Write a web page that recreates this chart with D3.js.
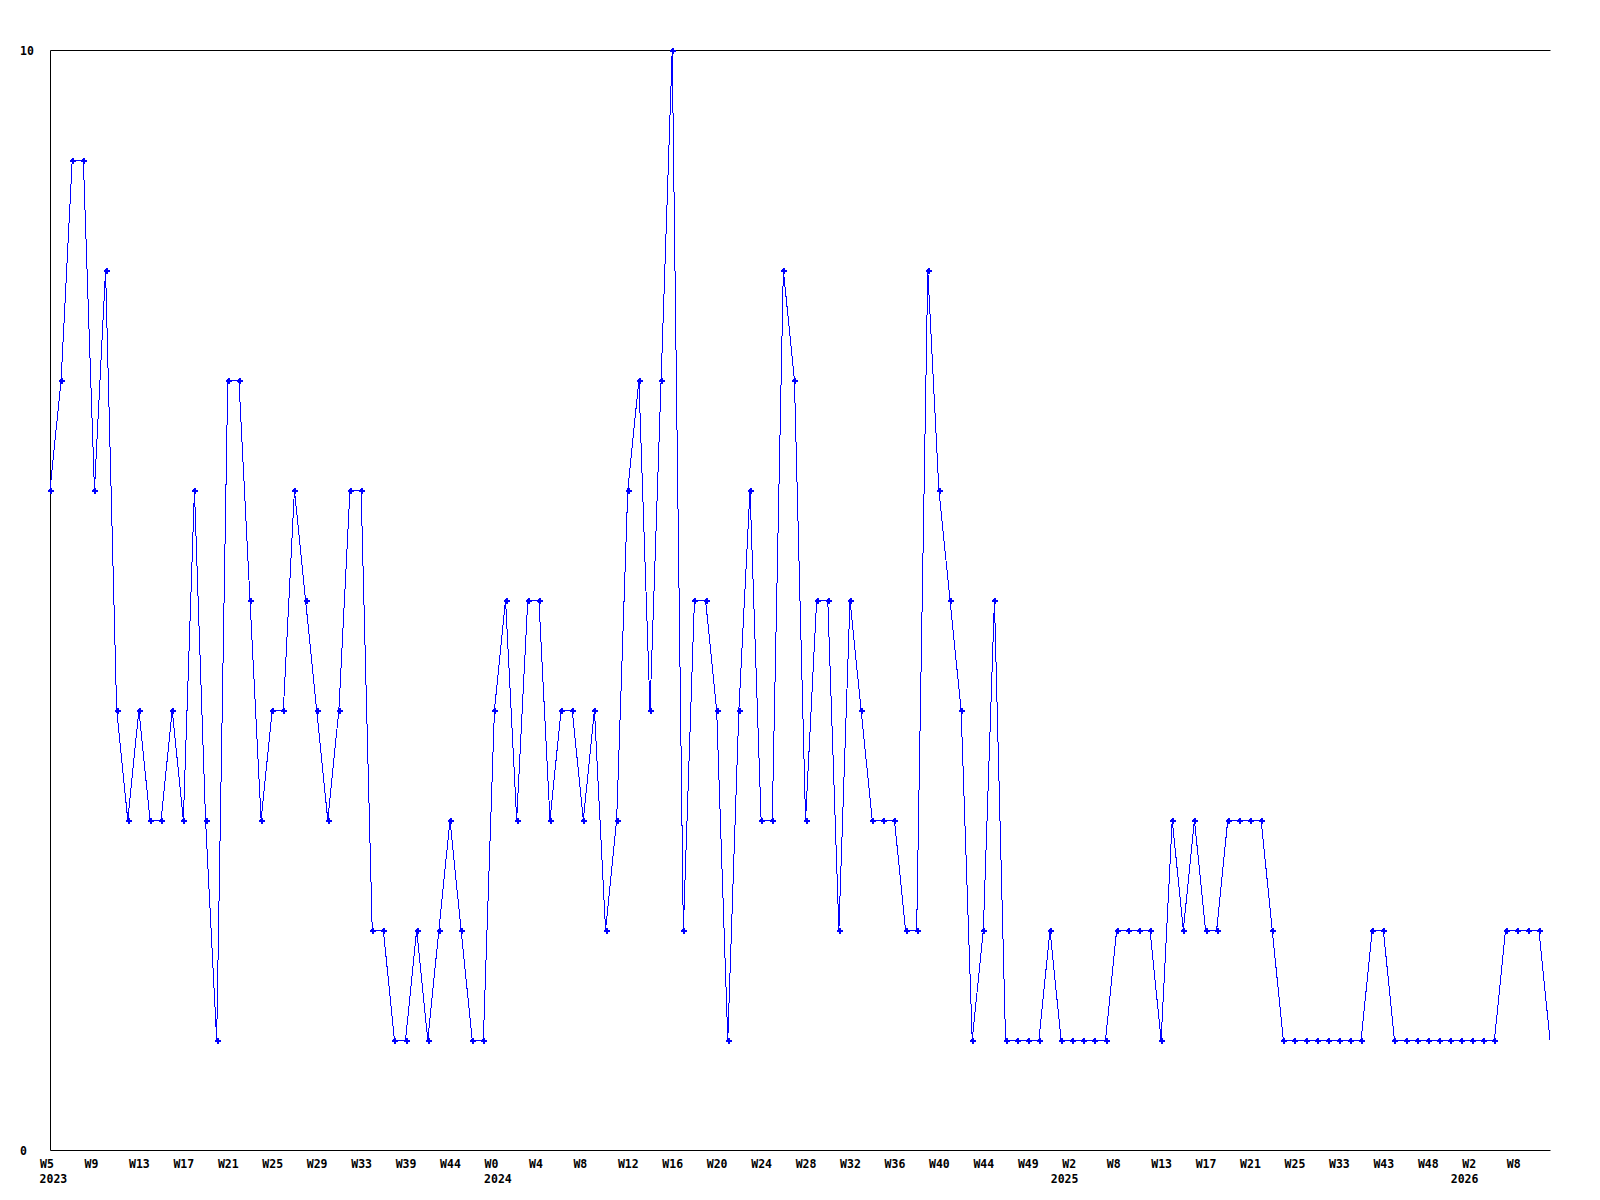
<!DOCTYPE html>
<html>
<head>
<meta charset="utf-8">
<script src="https://cdn.jsdelivr.net/npm/d3@7"></script>
<style>
  html, body { margin: 0; padding: 0; background: #fff; }
  svg { display: block; }
  text { font-family: "DejaVu Sans Mono", "Liberation Mono", monospace; font-weight: bold; font-size: 11.5px; fill: #000; }
</style>
</head>
<body>
<svg id="chart" width="1600" height="1200"></svg>
<script>
// ---- data ----
const values = [
  6,7,9,9,6,8,4,3,4,3,
  3,4,3,6,3,1,7,7,5,3,
  4,4,6,5,4,3,4,6,6,2,
  2,1,1,2,1,2,3,2,1,1,
  4,5,3,5,5,3,4,4,3,4,
  2,3,6,7,4,7,10,2,5,5,
  4,1,4,6,3,3,8,7,3,5,
  5,2,5,4,3,3,3,2,2,8,
  6,5,4,1,2,5,1,1,1,1,
  2,1,1,1,1,1,2,2,2,2,
  1,3,2,3,2,2,3,3,3,3,
  2,1,1,1,1,1,1,1,1,2,
  2,1,1,1,1,1,1,1,1,1,
  1,2,2,2,2,1
];
const weekLabels = ["W5","W9","W13","W17","W21","W25","W29","W33","W39","W44",
  "W0","W4","W8","W12","W16","W20","W24","W28","W32","W36","W40","W44","W49",
  "W2","W8","W13","W17","W21","W25","W33","W43","W48","W2","W8"];
const labelEvery = 4;
const years = ["2023","2024","2025","2026"];
const yearAt = [0, 40, 91, 127];
const yTicks = [0, 10];

// ---- layout ----
(function () {
const svg = d3.select("#chart");
const mLeft = 50, mRight = 1550, mTop = 50, mBottom = 1150;

const x = d3.scaleLinear().domain([0, values.length - 1]).range([mLeft, mRight]);
const y = d3.scaleLinear().domain([0, 10]).range([mBottom, mTop]);

// top border
svg.append("g")
  .attr("transform", `translate(0,${mTop})`)
  .call(d3.axisTop(x).tickValues([]).tickSizeOuter(0))
  .call(g => g.select(".domain").attr("stroke", "#000"));

// left axis
const gy = svg.append("g")
  .attr("transform", `translate(${mLeft},0)`)
  .call(d3.axisLeft(y).tickValues(yTicks).tickSize(0).tickSizeOuter(0).tickFormat(d3.format("d")));
gy.select(".domain").attr("stroke", "#000");
gy.selectAll("text")
  .attr("x", -30).attr("dy", 4).attr("text-anchor", "start");
gy.attr("font-family", null).attr("font-size", null);

// bottom axis
const tickIdx = weekLabels.map((_, i) => i * labelEvery);
const gx = svg.append("g")
  .attr("transform", `translate(0,${mBottom})`)
  .call(d3.axisBottom(x).tickValues(tickIdx).tickSize(0).tickSizeOuter(0)
    .tickFormat((d, i) => weekLabels[i]));
gx.select(".domain").attr("stroke", "#000");
gx.selectAll("text")
  .attr("y", 17.5).attr("dy", 0).attr("dx", -10.4).attr("text-anchor", "start");
gx.attr("font-family", null).attr("font-size", null);

// year labels
svg.append("g").selectAll("text")
  .data(years)
  .join("text")
  .attr("x", (d, i) => x(yearAt[i]) - 10.4)
  .attr("y", mBottom + 32.5)
  .attr("text-anchor", "start")
  .text(d => d);

// line
const line = d3.line().x((d, i) => x(i)).y(d => y(d));
svg.append("path")
  .datum(values)
  .attr("d", line)
  .attr("fill", "none")
  .attr("stroke", "#0000ff")
  .attr("stroke-width", 1)
  .attr("shape-rendering", "crispEdges");

// markers (last point has none): bold plus shape
svg.append("g").selectAll("path")
  .data(values.slice(0, values.length - 1))
  .join("path")
  .attr("transform", (d, i) => `translate(${Math.round(x(i)) + 0.5},${Math.round(y(d)) + 0.5})`)
  .attr("d", "M-3,-1H-1.5V-1.5H-1V-3H1V-1.5H1.5V-1H3V1H1.5V1.5H1V3H-1V1.5H-1.5V1H-3Z")
  .attr("fill", "#0000ff")
  .attr("shape-rendering", "crispEdges");
})();
</script>
</body>
</html>
